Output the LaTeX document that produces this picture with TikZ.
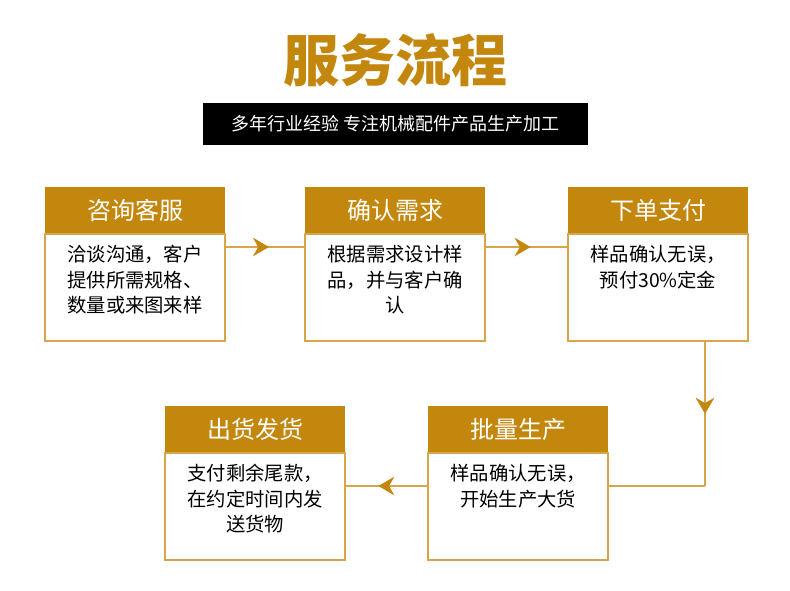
\documentclass[tikz,border=0pt]{standalone}
\usepackage{fontspec}
\setmainfont{Noto Sans CJK SC}
\usetikzlibrary{arrows.meta,decorations.markings,positioning}
\definecolor{gold}{HTML}{C4870D}
\definecolor{line}{HTML}{D9A54A}
\tikzset{
  head/.style={fill=gold,text=white,minimum width=135pt,minimum height=34.5pt,inner sep=0pt,font=\fontsize{18}{18}\selectfont},
  body/.style={draw=line,line width=1.2pt,minimum width=135pt,minimum height=80pt,inner sep=0pt},
  txt/.style={align=center,inner sep=0pt,font=\fontsize{14.5}{19}\selectfont},
  link/.style={draw=line,line width=1.2pt,postaction={decorate},
    decoration={markings,mark=at position #1 with {\arrow{Stealth[length=12pt,width=14pt,inset=4pt,gold]}}}},
  link/.default=0.5
}
\begin{document}
\begin{tikzpicture}[x=0.75pt,y=-0.75pt]
\useasboundingbox (0,0) rectangle (790,590);
% title
\node[text=gold,font=\fontsize{42}{42}\selectfont\bfseries] (title) at (395,60) {服务流程};
\node[fill=black,text=white,minimum width=288.75pt,minimum height=31.5pt,inner sep=0pt,font=\fontsize{13.5}{13.5}\selectfont] (banner) at (395.5,124) {多年行业经验 专注机械配件产品生产加工};
% steps
\node[head] (h1) at (135,210) {咨询客服};
\node[body,below=0pt of h1] (b1) {};
\node[txt,below=9pt of b1.north] (t1) {洽谈沟通，客户\\提供所需规格、\\数量或来图来样};
\node[head] (h2) at (395,210) {确认需求};
\node[body,below=0pt of h2] (b2) {};
\node[txt,below=9pt of b2.north] (t2) {根据需求设计样\\品，并与客户确\\认};
\node[head] (h3) at (658,210) {下单支付};
\node[body,below=0pt of h3] (b3) {};
\node[txt,below=9pt of b3.north] (t3) {样品确认无误，\\预付30\%定金};
\node[head] (h4) at (518,429) {批量生产};
\node[body,below=0pt of h4] (b4) {};
\node[txt,below=9pt of b4.north] (t4) {样品确认无误，\\开始生产大货};
\node[head] (h5) at (255,429) {出货发货};
\node[body,below=0pt of h5] (b5) {};
\node[txt,below=9pt of b5.north] (t5) {支付剩余尾款，\\在约定时间内发\\送货物};
% links
\coordinate (c1) at (705,486);
\draw[link=0.55] (b1.east |- 0,247) -- (b2.west |- 0,247);
\draw[link=0.55] (b2.east |- 0,247) -- (b3.west |- 0,247);
\draw[link=0.5] (b3.south -| c1) -- (c1);
\draw (c1) -- (b4.east |- c1);
\draw[link=0.6] (b4.west |- c1) -- (b5.east |- c1);
\draw[draw=line,line width=1.2pt] (c1) -- (b4.east |- c1);
\end{tikzpicture}
\end{document}
